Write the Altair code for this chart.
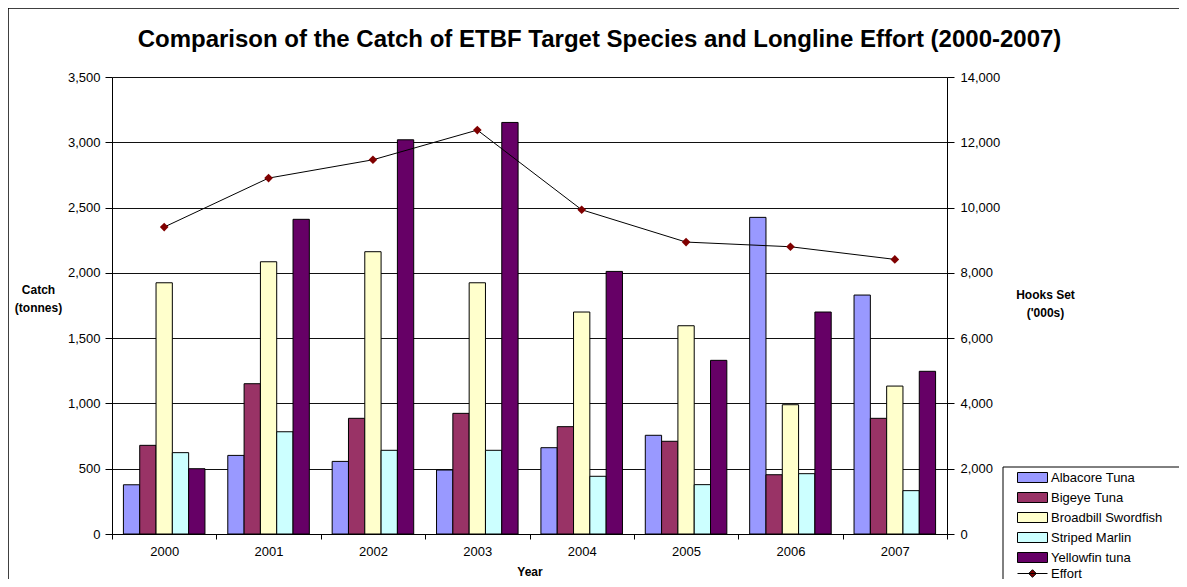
import altair as alt
import pandas as pd

years = ["2000", "2001", "2002", "2003", "2004", "2005", "2006", "2007"]
species = ["Albacore Tuna", "Bigeye Tuna", "Broadbill Swordfish", "Striped Marlin", "Yellowfin tuna"]
albacore = [377, 602, 556, 490, 661, 756, 2425, 1830]
bigeye = [679, 1151, 886, 924, 822, 710, 454, 886]
swordfish = [1924, 2085, 2162, 1924, 1700, 1595, 990, 1133]
striped = [623, 783, 641, 641, 442, 378, 462, 332]
yellowfin = [500, 2410, 3019, 3152, 2011, 1330, 1700, 1246]
effort = [9403, 10903, 11464, 12374, 9933, 8943, 8800, 8413]

colors = ["#9999FF", "#993366", "#FFFFCC", "#CCFFFF", "#660066"]

rows = []
for name, vals in zip(species, [albacore, bigeye, swordfish, striped, yellowfin]):
    for y, v in zip(years, vals):
        rows.append({"year": y, "species": name, "catch": v})
bars_df = pd.DataFrame(rows)
eff_df = pd.DataFrame({"year": years, "effort": effort, "series": ["Effort"] * len(years)})

FONT = "Liberation Sans"

rect_path = "M-1.5,-0.5H1.5V0.5H-1.5Z"
effort_path = "M-1.5,0H1.5M0,-0.38L0.38,0L0,0.38L-0.38,0Z"

BOX_X, BOX_Y = 891, 390
LX, LY = 910, 390

x_enc = alt.X(
    "year:N",
    sort=years,
    scale=alt.Scale(paddingInner=0, paddingOuter=0),
    axis=alt.Axis(
        title="Year", labelAngle=0, tickBand="extent", ticks=True, tickSize=5,
        tickColor="black", domainColor="black", labelPadding=6, labelFontSize=13,
        labelColor="black", labelFont=FONT, grid=False, titleFont=FONT,
        titleFontSize=12, titleFontWeight="bold", titlePadding=8, titleColor="black",
    ),
)

bars = alt.Chart(bars_df).mark_bar(stroke="black", strokeWidth=1).encode(
    x=x_enc,
    xOffset=alt.XOffset("species:N", sort=species,
                        scale=alt.Scale(paddingInner=0, paddingOuter=0.7)),
    y=alt.Y(
        "catch:Q",
        scale=alt.Scale(domain=[0, 3500], nice=False),
        axis=alt.Axis(
            values=[0, 500, 1000, 1500, 2000, 2500, 3000, 3500], format=",.0f",
            title=["Catch", "(tonnes)"], titleAngle=0, titleX=-74, titleY=207,
            titleAlign="center", titleBaseline="top", titleFont=FONT, titleFontSize=12,
            titleFontWeight="bold", titleLineHeight=18, titleColor="black",
            tickSize=7, tickColor="black", domainColor="black", labelPadding=5,
            labelFontSize=13, labelColor="black", labelFont=FONT,
            grid=True, gridColor="#111111", gridWidth=1,
        ),
    ),
    fill=alt.Fill(
        "species:N",
        scale=alt.Scale(domain=species, range=colors),
        legend=alt.Legend(
            title=None, orient="none", legendX=LX, legendY=LY,
            symbolType=rect_path, symbolSize=400, symbolStrokeColor="black",
            symbolStrokeWidth=1, labelFont=FONT, labelFontSize=13, labelColor="black",
            labelOffset=8, rowPadding=2, padding=0, labelLimit=300,
        ),
    ),
)

right_axis = alt.Axis(
    orient="right", values=[0, 2000, 4000, 6000, 8000, 10000, 12000, 14000],
    format=",.0f", title=["Hooks Set", "('000s)"], titleAngle=0, titleX=98,
    titleY=212, titleAlign="center", titleBaseline="top", titleFont=FONT,
    titleFontSize=12, titleFontWeight="bold", titleLineHeight=18,
    titleColor="black", tickSize=7, tickColor="black", domainColor="black",
    labelPadding=6, labelFontSize=13, labelColor="black", labelFont=FONT,
    grid=False,
)
y_right = alt.Y("effort:Q", scale=alt.Scale(domain=[0, 14000], nice=False), axis=right_axis)

line = alt.Chart(eff_df).mark_line(strokeWidth=1).encode(
    x=alt.X("year:N", sort=years),
    y=y_right,
    stroke=alt.Stroke(
        "series:N",
        scale=alt.Scale(domain=["Effort"], range=["black"]),
        legend=alt.Legend(
            title=None, orient="none", legendX=LX, legendY=LY + 96,
            symbolType=effort_path, symbolSize=400, symbolFillColor="#800000",
            symbolStrokeWidth=1, labelFont=FONT, labelFontSize=13, labelColor="black",
            labelOffset=8, padding=0, labelLimit=300,
        ),
    ),
)

points = alt.Chart(eff_df).mark_point(
    shape="diamond", filled=True, color="#800000", size=75, opacity=1
).encode(
    x=alt.X("year:N", sort=years),
    y=y_right,
)

frame_df = pd.DataFrame({"a": [0]})
frame_top = alt.Chart(frame_df).mark_rule(color="black", strokeWidth=1.5).encode(
    x=alt.value(-104), x2=alt.value(1100), y=alt.value(-69)
)
frame_left = alt.Chart(frame_df).mark_rule(color="black", strokeWidth=1.5).encode(
    x=alt.value(-104), y=alt.value(-69), y2=alt.value(520)
)
legend_box = alt.Chart(frame_df).mark_rect(
    fill="white", stroke="black", strokeWidth=1
).encode(
    x=alt.value(BOX_X), x2=alt.value(BOX_X + 200), y=alt.value(BOX_Y), y2=alt.value(BOX_Y + 140)
)

right = alt.layer(line, points)
chart = alt.layer(bars, right, frame_top, frame_left, legend_box).resolve_scale(
    y="independent"
).properties(
    width=835,
    height=457,
    padding={"left": 104, "top": 69, "right": 232, "bottom": 45},
    autosize=alt.AutoSizeParams(type="none"),
    title=alt.TitleParams(
        "Comparison of the Catch of ETBF Target Species and Longline Effort (2000-2007)",
        font=FONT, fontSize=24, fontWeight="bold", color="black",
        anchor="middle", dx=70, offset=-45,
    ),
).configure_view(
    fill="#C0C0C0", stroke=None
).configure(background="white")

chart.save("out.html", embed_options={"renderer": "svg", "actions": False})
